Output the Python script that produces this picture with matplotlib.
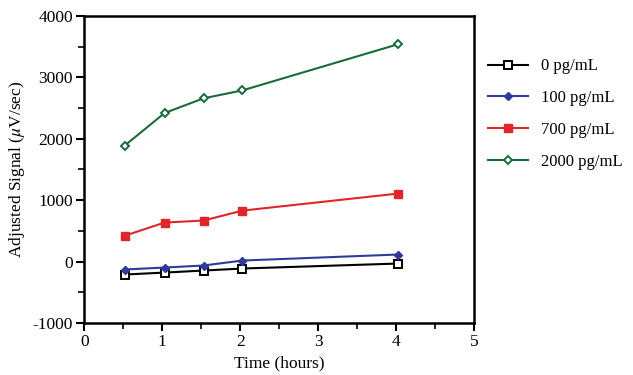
import matplotlib
matplotlib.use("Agg")
import matplotlib.pyplot as plt
from matplotlib.ticker import MultipleLocator

plt.rcParams['font.family'] = ['Liberation Serif', 'DejaVu Serif']
plt.rcParams['axes.unicode_minus'] = False
plt.rcParams['mathtext.fontset'] = 'stix'

time_h = [0.52, 1.03, 1.53, 2.03, 4.02]
s0 = [-212, -180, -147, -114, -33]
s100 = [-130, -98, -65, 16, 114]
s700 = [420, 635, 668, 830, 1107]
s2000 = [1890, 2420, 2660, 2790, 3540]
labels = ["0 pg/mL", "100 pg/mL", "700 pg/mL", "2000 pg/mL"]

fig = plt.figure(figsize=(6.33, 3.75), dpi=100)
ax = fig.add_axes([0.133, 0.139, 0.616, 0.818])

ax.plot(time_h, s0, color='black', lw=1.5, marker='s', ms=5.5, mfc='white', mec='black', mew=1.4, label=labels[0])
ax.plot(time_h, s100, color='#2e3a9c', lw=1.5, marker='D', ms=4.5, mfc='#2e3a9c', mec='#2e3a9c', label=labels[1])
ax.plot(time_h, s700, color='#e0262a', lw=1.5, marker='s', ms=6, mfc='#e0262a', mec='#e0262a', label=labels[2])
ax.plot(time_h, s2000, color='#1a6b3c', lw=1.5, marker='D', ms=4.5, mfc='white', mec='#1a6b3c', mew=1.4, label=labels[3])

ax.set_xlim(0, 5)
ax.set_ylim(-1000, 4000)
ax.xaxis.set_major_locator(MultipleLocator(1))
ax.xaxis.set_minor_locator(MultipleLocator(0.5))
ax.yaxis.set_major_locator(MultipleLocator(1000))
ax.yaxis.set_minor_locator(MultipleLocator(500))
ax.tick_params(which='major', direction='out', length=6, width=1.5, labelsize=12.5, pad=2)
ax.tick_params(which='minor', direction='out', length=4, width=1.2)
for s in ax.spines.values():
    s.set_linewidth(1.8)

ax.set_xlabel("Time (hours)", fontsize=12.5, labelpad=4)
ax.set_ylabel("Adjusted Signal ($\\mathit{\\mu}$V/sec)", fontsize=12.5, labelpad=4)

leg = ax.legend(loc='upper left', bbox_to_anchor=(1.036, 0.862), frameon=False,
                fontsize=12, handlelength=2.4, labelspacing=0.95, handletextpad=0.8,
                borderaxespad=0, borderpad=0)

fig.savefig("out.png", dpi=100)
